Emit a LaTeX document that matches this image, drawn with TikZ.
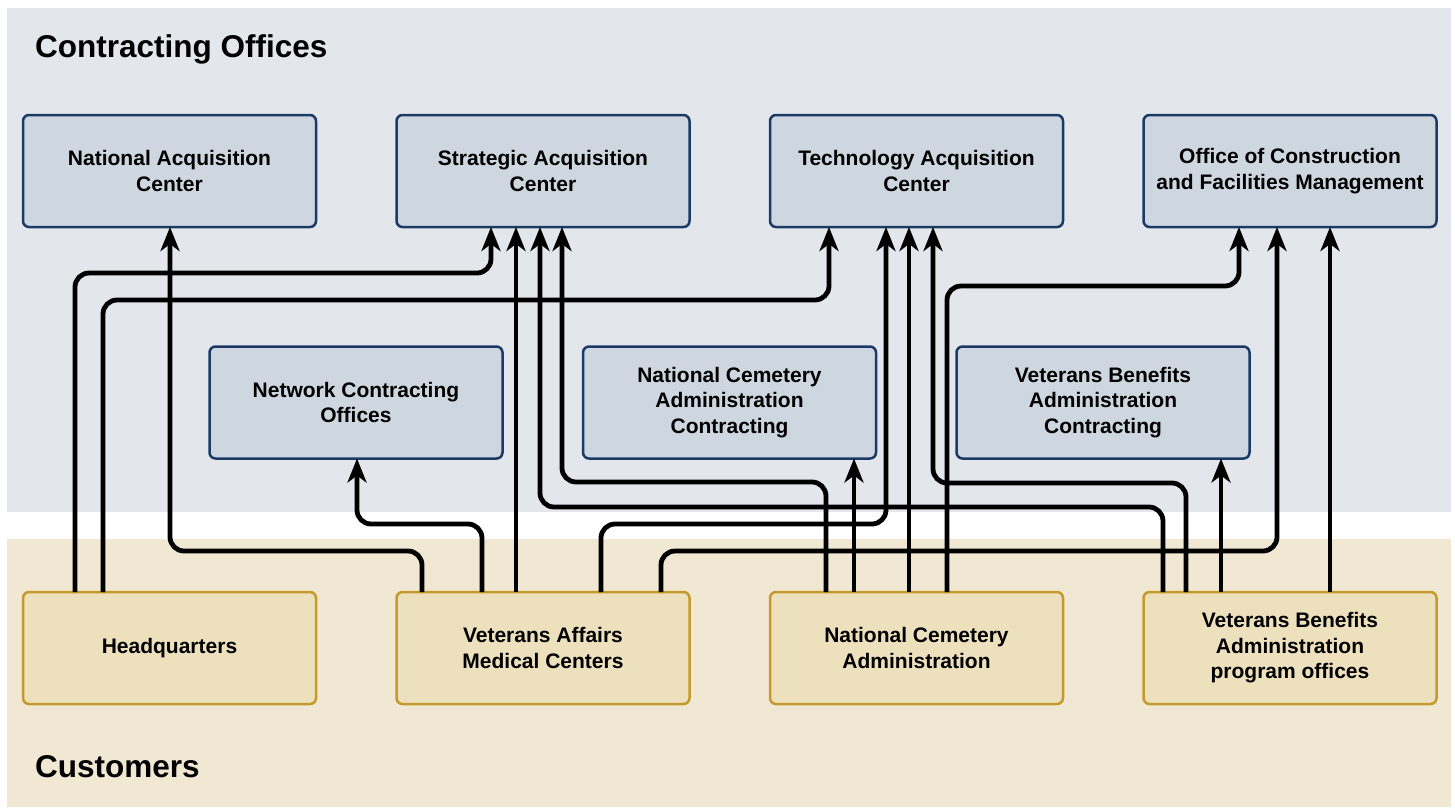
\documentclass[tikz,border=0pt]{standalone}
\usepackage{fontspec}
\setmainfont{Liberation Sans}
\usetikzlibrary{positioning, arrows.meta}
\definecolor{officebg}{HTML}{E3E7EC}
\definecolor{officefill}{HTML}{CED6E0}
\definecolor{officeline}{HTML}{1B3A66}
\definecolor{custbg}{HTML}{F0E8D2}
\definecolor{custfill}{HTML}{EDE0BC}
\definecolor{custline}{HTML}{C49A2C}
\tikzset{
    x=1pt, y=-1pt, % one unit is one pixel of the layout
    box/.style={rounded corners=6pt, line width=2.5pt, minimum width=293pt, minimum height=112pt,
        outer sep=0pt, align=center, font=\fontsize{21}{25.5}\selectfont\bfseries},
    office/.style={box, draw=officeline, fill=officefill}, % contracting offices
    customer/.style={box, draw=custline, fill=custfill}, % customers
    heading/.style={anchor=base west, inner sep=0pt, font=\fontsize{31.5}{36}\selectfont\bfseries},
    conn/.style={line width=4.8pt, rounded corners=14pt, -{Stealth[length=24pt, width=19pt, inset=7pt]}},
}
\begin{document}
\begin{tikzpicture}
    \useasboundingbox (0,0) rectangle (1455,807);
    % the two bands
    \fill[officebg] (7,8) rectangle (1451,512);
    \fill[custbg] (7,539) rectangle (1451,807);
    \node[heading] (offtitle) at (35,57) {Contracting Offices};
    \node[heading] (custtitle) at (35,777) {Customers};

    % contracting offices
    \node[office] (nac) at (169.5,171) {National Acquisition\\Center};
    \node[office, right=80.5pt of nac] (sac) {Strategic Acquisition\\Center};
    \node[office, right=80.5pt of sac] (tac) {Technology Acquisition\\Center};
    \node[office, right=80.5pt of tac] (ocfm) {Office of Construction\\and Facilities Management};
    \node[office] (nco) at (356,402.5) {Network Contracting\\Offices};
    \node[office, right=80.5pt of nco] (ncac) {National Cemetery\\Administration\\Contracting};
    \node[office, right=80.5pt of ncac] (vbac) {Veterans Benefits\\Administration\\Contracting};

    % customers
    \node[customer] (hq) at (169.5,648) {Headquarters};
    \node[customer, right=80.5pt of hq] (vamc) {Veterans Affairs\\Medical Centers};
    \node[customer, right=80.5pt of vamc] (nca) {National Cemetery\\Administration};
    \node[customer, right=80.5pt of nca] (vba) {Veterans Benefits\\Administration\\program offices};

    % who buys where
    \draw[conn] (75,0 |- hq.north) |- (491,273) -- (491,0 |- sac.south);
    \draw[conn] (103,0 |- hq.north) |- (829,300) -- (829,0 |- tac.south);
    \draw[conn] (422,0 |- vamc.north) |- (170,551) -- (170,0 |- nac.south);
    \draw[conn] (482,0 |- vamc.north) |- (357,524) -- (357,0 |- nco.south);
    \draw[conn] (516,0 |- vamc.north) -- (516,0 |- sac.south);
    \draw[conn] (601,0 |- vamc.north) |- (886,524) -- (886,0 |- tac.south);
    \draw[conn] (661,0 |- vamc.north) |- (1277,551) -- (1277,0 |- ocfm.south);
    \draw[conn] (826,0 |- nca.north) |- (562,482) -- (562,0 |- sac.south);
    \draw[conn] (854,0 |- nca.north) -- (854,0 |- ncac.south);
    \draw[conn] (909,0 |- nca.north) -- (909,0 |- tac.south);
    \draw[conn] (947,0 |- nca.north) |- (1239,286) -- (1239,0 |- ocfm.south);
    \draw[conn] (1163,0 |- vba.north) |- (540,507) -- (540,0 |- sac.south);
    \draw[conn] (1186,0 |- vba.north) |- (933,483) -- (933,0 |- tac.south);
    \draw[conn] (1221,0 |- vba.north) -- (1221,0 |- vbac.south);
    \draw[conn] (1330,0 |- vba.north) -- (1330,0 |- ocfm.south);
\end{tikzpicture}
\end{document}
